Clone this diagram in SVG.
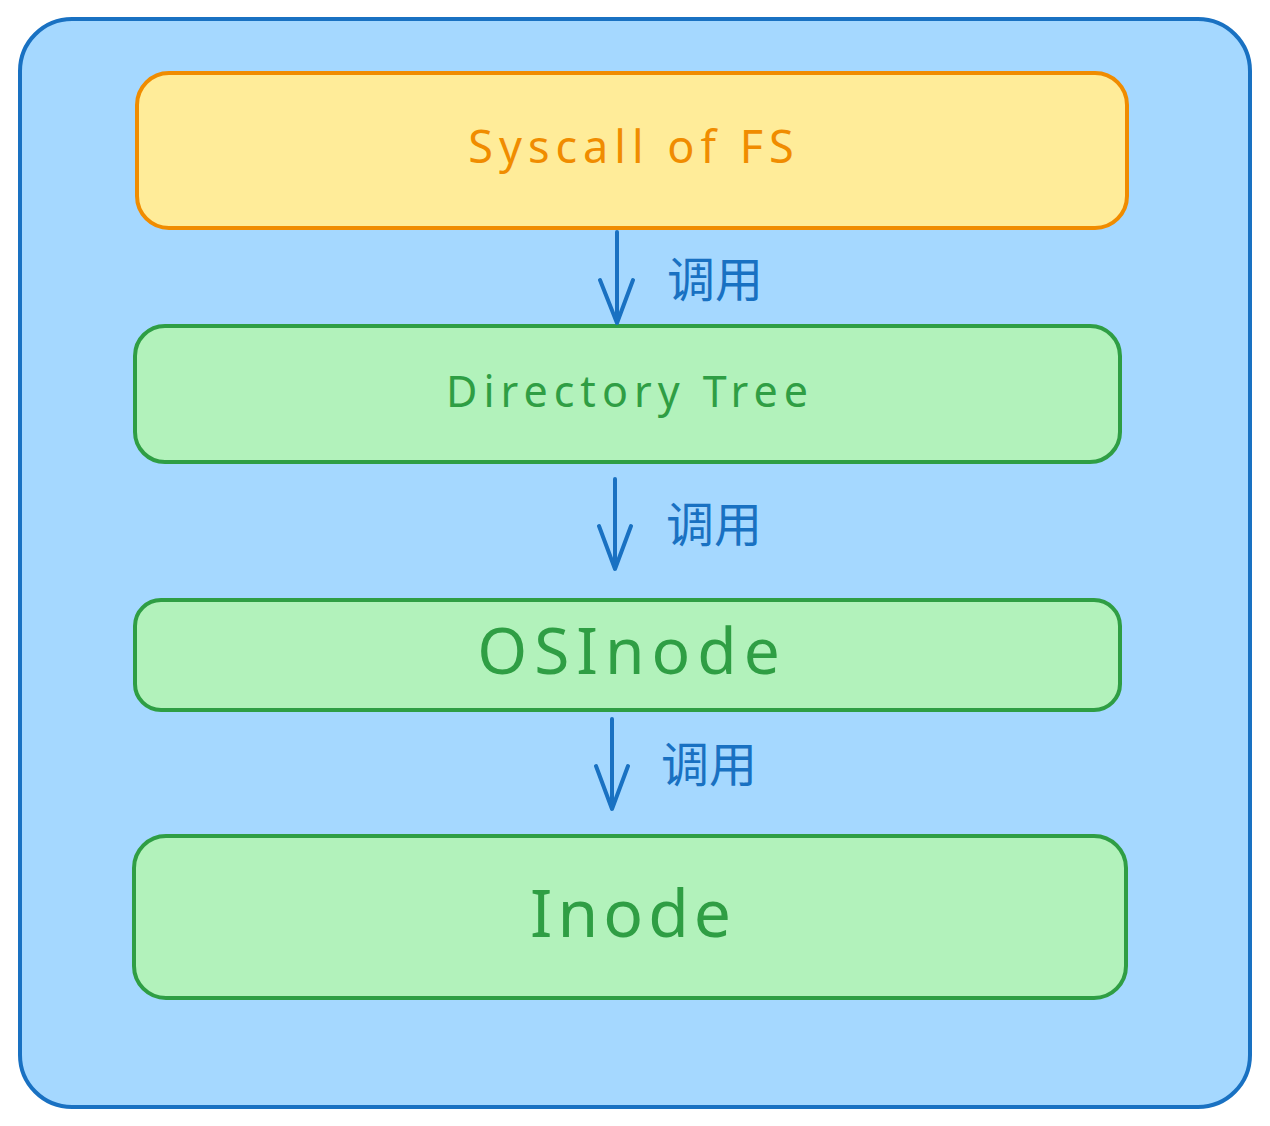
<svg xmlns="http://www.w3.org/2000/svg" width="1270" height="1126" viewBox="0 0 1270 1126">
<style>
.lbl{font-family:"Liberation Sans","Noto Sans CJK SC",sans-serif;fill:#1971c2;font-size:48px}
.g rect{fill:#b2f2bb;stroke:#2f9e44;stroke-width:4}
.gt{font-family:"Comic Sans MS","Noto Sans","Liberation Sans",sans-serif;fill:#2f9e44;text-anchor:middle}
.arr{stroke:#1971c2;stroke-width:4;fill:none;stroke-linecap:round;stroke-linejoin:round}
</style>
<rect width="1270" height="1126" fill="#ffffff"/>
<g id="container">
<rect x="20" y="19" width="1230" height="1088" rx="52" fill="#a5d8ff" stroke="#1971c2" stroke-width="4"/>
</g>
<g id="syscall">
<rect x="137" y="73" width="990" height="155" rx="32" fill="#ffec99" stroke="#f08c00" stroke-width="4"/>
<text x="634" y="163" class="gt" style="fill:#f08c00;font-size:45px;letter-spacing:6px">Syscall of FS</text>
</g>
<g id="dirtree" class="g">
<rect x="135" y="326" width="985" height="136" rx="30"/>
<text x="630" y="407" class="gt" style="font-size:43px;letter-spacing:6px">Directory Tree</text>
</g>
<g id="osinode" class="g">
<rect x="135" y="600" width="985" height="110" rx="26"/>
<text x="632" y="674" class="gt" style="font-size:64px;letter-spacing:7px">OSInode</text>
</g>
<g id="inode" class="g">
<rect x="134" y="836" width="992" height="162" rx="32"/>
<text x="633" y="937" class="gt" style="font-size:66px;letter-spacing:5px">Inode</text>
</g>
<g id="connectors">
<path class="arr" d="M617 232 L617 323 M600 280 L617 323 L633 280"/>
<path class="arr" d="M615 479 L615 569 M599 526 L615 569 L631 526"/>
<path class="arr" d="M612 719 L612 809 M596 766 L612 809 L628 766"/>
<text class="lbl" x="667" y="297">调用</text>
<text class="lbl" x="666" y="542">调用</text>
<text class="lbl" x="661" y="782">调用</text>
</g>
</svg>
